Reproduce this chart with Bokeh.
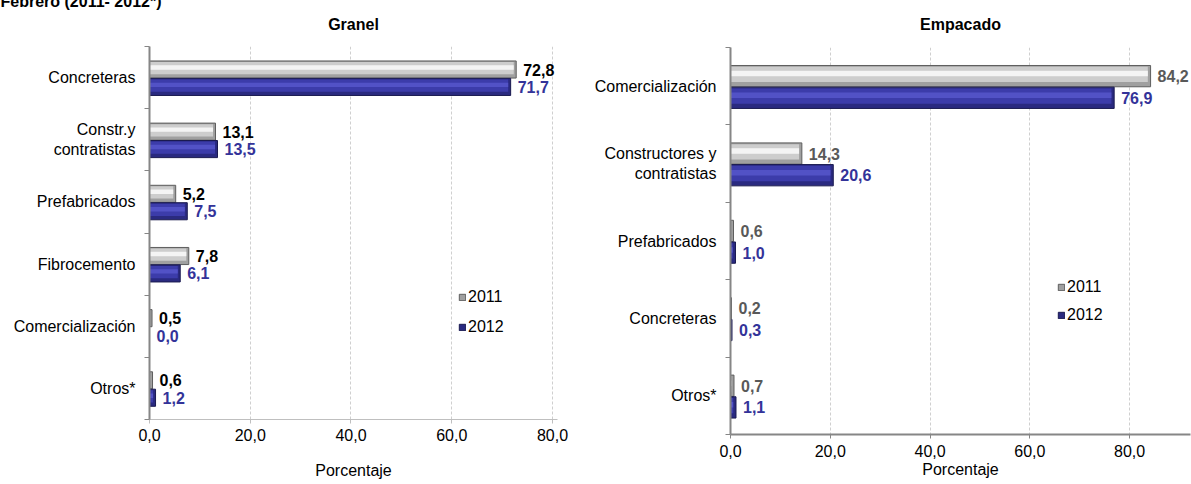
from bokeh.plotting import figure
from bokeh.layouts import row
from bokeh.models import (Range1d, FixedTicker, Legend, LegendItem, Title,
                          ColumnDataSource, Plot)
from bokeh.core.properties import value
from bokeh.embed import file_html
from bokeh.resources import INLINE

# ---------------- data ----------------
granel_cats = ["Concreteras", "Constr.y\ncontratistas", "Prefabricados", "Fibrocemento",
               "Comercialización", "Otros*"]
granel_2011 = [72.8, 13.1, 5.2, 7.8, 0.5, 0.6]
granel_2012 = [71.7, 13.5, 7.5, 6.1, 0.0, 1.2]

empacado_cats = ["Comercialización", "Constructores y\ncontratistas", "Prefabricados",
                 "Concreteras", "Otros*"]
empacado_2011 = [84.2, 14.3, 0.6, 0.2, 0.7]
empacado_2012 = [76.9, 20.6, 1.0, 0.3, 1.1]

series = ["2011", "2012"]
x_ticks = [0, 20, 40, 60, 80]
x_tick_labels = ["0,0", "20,0", "40,0", "60,0", "80,0"]
main_title = "Febrero (2011- 2012*)"
x_axis_title = "Porcentaje"

FONT = "Liberation Sans"
FS = "16px"
BAR_STYLE = {
    "2011": dict(edge="#5e5e5e", dark="#a0a0a0", mid="#cdcdcd", light="#f4f4f4"),
    "2012": dict(edge="#1a1a50", dark="#2a2a80", mid="#3c3caa", light="#5252c6"),
}
H = 0.275
DODGE = {"2011": -0.13, "2012": 0.15}

HAS_FRAME_ALIGN = "frame_align" in Plot.properties()


def make_title(text, align, offset, standoff, fallback_standoff=0):
    kw = dict(text=text, align=align, vertical_align="top", text_font=FONT,
              text_font_size=FS, text_font_style="bold", text_color="black", offset=offset)
    try:
        return Title(standoff=standoff, **kw)
    except Exception:
        return Title(standoff=fallback_standoff, **kw)


def fmt(v):
    return f"{v:.1f}".replace(".", ",")


def make_chart(cats, vals, title, xmax, width, height, borders, title_offset, title_standoff,
               label_colors, legend_loc, legend_spacing, xaxis_style):
    n = len(cats)
    bl, br, bt, bb = borders
    kw = {}
    if HAS_FRAME_ALIGN:
        kw["frame_align"] = False
    p = figure(width=width, height=height, output_backend="svg", toolbar_location=None,
               x_range=Range1d(0, xmax), y_range=Range1d(n, 0), title=None,
               min_border_left=bl, min_border_right=br, min_border_top=bt, min_border_bottom=bb,
               outline_line_color=None, background_fill_color="white",
               border_fill_color="white", **kw)

    p.add_layout(make_title(title, "center", title_offset, title_standoff), "above")

    renderers = {}
    e = xmax * 0.006
    for s in series:
        v = vals[s]
        st = BAR_STYLE[s]
        pos = [i + 0.5 + DODGE[s] for i in range(n)]
        src = ColumnDataSource(dict(
            y=pos,
            y_mid=[y - 0.08 * H for y in pos],
            y_light=[y - 0.12 * H for y in pos],
            v=v,
            vr=[max(x - e, 0) for x in v],
            label=[fmt(x) for x in v],
        ))
        base = p.hbar(y="y", height=H, left=0, right="v", source=src,
                      fill_color=st["dark"], line_color=st["edge"], line_width=1)
        p.hbar(y="y_mid", height=H * 0.72, left=0, right="vr", source=src,
               fill_color=st["mid"], line_color=None)
        p.hbar(y="y_light", height=H * 0.26, left=0, right="vr", source=src,
               fill_color=st["light"], line_color=None)
        p.text(x="v", y="y", text="label", source=src, x_offset=7,
               text_align="left", text_baseline="middle", text_font=value(FONT),
               text_font_size=FS, text_font_style="bold", text_color=label_colors[s])
        renderers[s] = base

    # y axis (categories)
    ya = p.yaxis[0]
    centers = [i + 0.5 for i in range(n)]
    ya.ticker = FixedTicker(ticks=centers, minor_ticks=list(range(n + 1)))
    ya.major_label_overrides = {c: cats[i] for i, c in enumerate(centers)}
    ya.major_tick_out = 0
    ya.major_tick_in = 0
    ya.minor_tick_out = 5
    ya.minor_tick_in = 0
    ya.minor_tick_line_color = "#868686"
    ya.axis_line_color = "#868686"
    ya.axis_line_width = 2
    ya.major_label_standoff = 9
    ya.major_label_text_font = FONT
    ya.major_label_text_font_size = FS
    ya.major_label_text_color = "black"

    # x axis
    xa = p.xaxis[0]
    xa.ticker = FixedTicker(ticks=x_ticks)
    xa.major_label_overrides = {t_: l for t_, l in zip(x_ticks, x_tick_labels)}
    xa.major_label_text_font = FONT
    xa.major_label_text_font_size = FS
    xa.major_label_text_color = "black"
    xa.major_tick_in = 0
    xa.major_tick_out = 4
    xa.minor_tick_line_color = None
    xa.axis_label = x_axis_title
    xa.axis_label_text_font = FONT
    xa.axis_label_text_font_size = FS
    xa.axis_label_text_font_style = "normal"
    xa.axis_label_text_color = "black"
    xa.axis_line_color = xaxis_style["line"]
    xa.axis_line_width = xaxis_style["width"]
    xa.major_tick_line_color = xaxis_style["tick"]
    xa.major_label_standoff = xaxis_style["standoff"]
    xa.axis_label_standoff = xaxis_style["label_standoff"]

    p.ygrid.grid_line_color = None
    p.xgrid.ticker = FixedTicker(ticks=x_ticks[1:])
    p.xgrid.grid_line_color = "#cfcfcf"
    p.xgrid.grid_line_dash = "3 2"

    legend = Legend(items=[LegendItem(label=s, renderers=[renderers[s]]) for s in series],
                    location=legend_loc, orientation="vertical",
                    label_text_font=FONT, label_text_font_size=FS,
                    label_text_color="black", glyph_width=8, glyph_height=8,
                    label_height=20, label_standoff=2, spacing=legend_spacing,
                    padding=0, margin=0, border_line_color=None,
                    background_fill_alpha=0)
    p.add_layout(legend, "center")
    return p


left = make_chart(granel_cats, {"2011": granel_2011, "2012": granel_2012}, "Granel",
                  81, 590, 484, (149, 33, 46, 65), -26, 24,
                  {"2011": "black", "2012": "#333399"}, (309, 82), 10,
                  dict(line="#bfbfbf", width=1, tick="#bfbfbf", standoff=5, label_standoff=18))
left.add_layout(make_title(main_title, "left", -149, -21, 0), "above")

right = make_chart(empacado_cats, {"2011": empacado_2011, "2012": empacado_2012}, "Empacado",
                   92.2, 601, 484, (140, 1, 47, 50), -20, 26,
                   {"2011": "#595959", "2012": "#333399"}, (327, 109), 8,
                   dict(line="#868686", width=2, tick="#868686", standoff=6, label_standoff=1))

layout = row(left, right)
open("out.html", "w").write(file_html(layout, INLINE))
